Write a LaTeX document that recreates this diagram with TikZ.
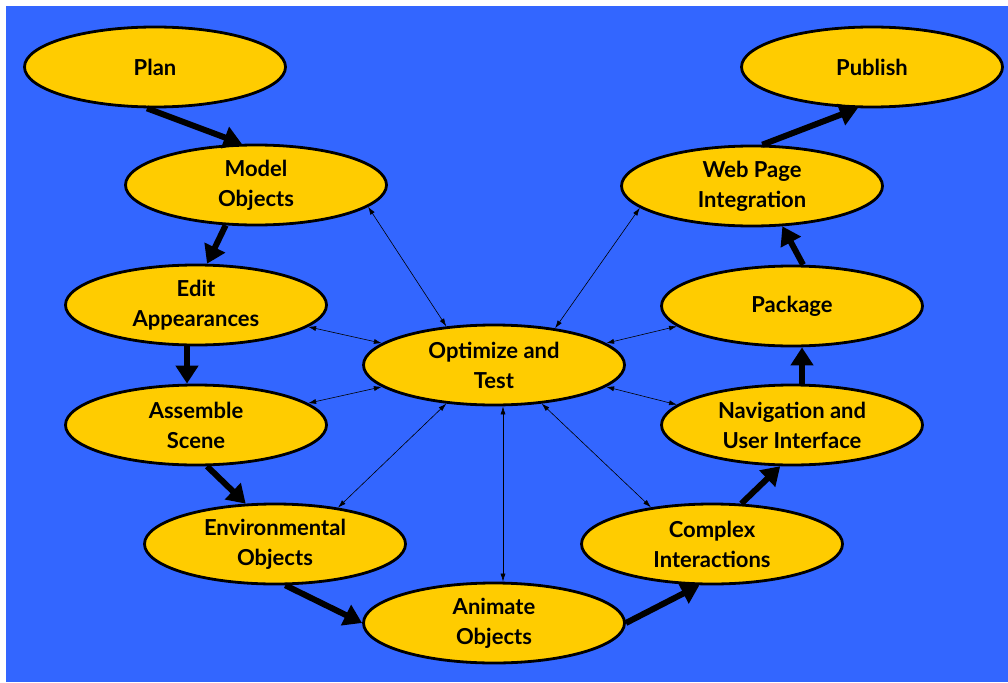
\documentclass[tikz,border=0pt]{standalone}
\usepackage{fontspec}
\setmainfont{Lato}
\usetikzlibrary{arrows.meta,shapes.geometric}
\definecolor{bgblue}{HTML}{3366FF}
\definecolor{stagefill}{HTML}{FFCC00}
\begin{document}
\begin{tikzpicture}[x=1pt,y=-1pt,
  stage/.style={ellipse, draw=black, line width=2.8pt, fill=stagefill,
    minimum width=261pt, minimum height=80pt, inner sep=0pt, align=center,
    font=\fontsize{22}{30}\selectfont\bfseries},
  flow/.style={line width=6pt, -{Triangle[length=18pt,width=22pt]}},
  link/.style={line width=0.6pt, {Latex[length=8pt,width=5pt]}-{Latex[length=8pt,width=5pt]}}]

\useasboundingbox (0,0) rectangle (1008,682);
\fill[white] (0,0) rectangle (1008,682);
\fill[bgblue] (6,6) rectangle (1008,682);

% stages of the production cycle
\node[stage] (plan) at (155,67)  {Plan};
\node[stage] (mo)   at (256,185) {Model\\Objects};
\node[stage] (ea)   at (196,305) {Edit\\Appearances};
\node[stage] (as)   at (196,425) {Assemble\\Scene};
\node[stage] (eo)   at (275,544) {Environmental\\Objects};
\node[stage] (ao)   at (494,623) {Animate\\Objects};
\node[stage] (ci)   at (712,544) {Complex\\Interactions};
\node[stage] (nav)  at (792,425) {Navigation and\\User Interface};
\node[stage] (pkg)  at (792,306) {Package};
\node[stage] (wp)   at (752,186) {Web Page\\Integration};
\node[stage] (pub)  at (872,67)  {Publish};
\node[stage] (opt)  at (494,365) {Optimize and\\Test};

% main workflow
\draw[flow] (plan.259) -- (mo.109);
\draw[flow] (mo.233) -- (ea.75);
\draw[flow] ([xshift=-9pt]ea.south) -- ([xshift=-9pt]as.north);
\draw[flow] (as.285) -- (eo.126);
\draw[flow] (eo.284) -- (ao.west);
\draw[flow] (ao.east) -- (ci.253);
\draw[flow] (ci.54) -- (nav.254);
\draw[flow] ([xshift=10pt]nav.north) -- ([xshift=10pt]pkg.south);
\draw[flow] (pkg.75) -- (wp.307);
\draw[flow] (wp.76) -- (pub.251);

% optimisation feedback links
\draw[link] (mo.-11)  -- (opt.141);
\draw[link] (wp.191)  -- (opt.31);
\draw[link] (ea.-11)  -- (opt.169);
\draw[link] (pkg.190) -- (opt.11);
\draw[link] (as.11)   -- (opt.191);
\draw[link] (nav.170) -- (opt.-11);
\draw[link] (eo.30)   -- (opt.219);
\draw[link] (ci.149)  -- (opt.-39);
\draw[link] ([xshift=9pt]ao.north) -- ([xshift=9pt]opt.south);
\end{tikzpicture}
\end{document}
